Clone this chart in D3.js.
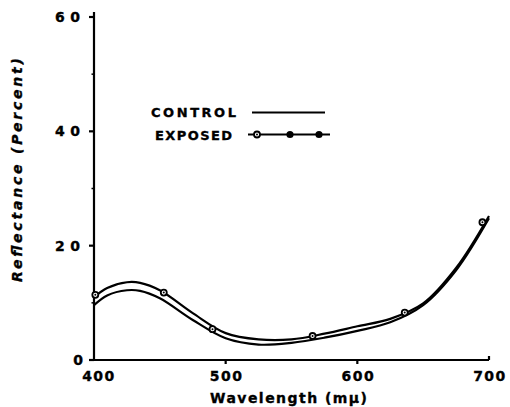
<!DOCTYPE html>
<html>
<head>
<meta charset="utf-8">
<script src="https://cdn.jsdelivr.net/npm/d3@7"></script>
<style>
  body { margin: 0; background: #fff; }
  svg { display: block; }
  text { font-family: 'DejaVu Sans', sans-serif; font-weight: bold; fill: #000; stroke: #000; stroke-width: 0.35px; }
</style>
</head>
<body>
<div id="chart"></div>
<script>
// values
const wavelengths = [400, 410, 425, 435, 450, 475, 500, 525, 550, 575, 600, 625, 650, 675, 700];
const control = [9.6, 11.3, 12.2, 12.1, 10.8, 7.0, 3.8, 2.7, 3.0, 3.9, 5.1, 6.6, 9.6, 15.7, 24.8];
const exposed = [11.0, 12.6, 13.6, 13.5, 12.2, 8.2, 4.7, 3.6, 3.6, 4.6, 5.9, 7.2, 9.9, 16.1, 25.2];
// marker positions on the exposed curve
const markerWl = [401, 453, 490, 566, 636, 695];
const markerVal = [11.4, 11.8, 5.4, 4.2, 8.3, 24.1];
const xTicks = [400, 500, 600, 700];
const yTicks = [0, 20, 40, 60];
const yMinor = [10, 30, 50];

var width = 510, height = 407;

var svg = d3.select('#chart').append('svg')
  .attr('width', width)
  .attr('height', height);

var x = d3.scaleLinear().domain([400, 700]).range([94, 489]);
var y = d3.scaleLinear().domain([0, 60]).range([360, 17]);

// axes drawn by hand-ish to get the old plotter look
var axisG = svg.append('g')
  .attr('stroke', '#000')
  .attr('stroke-width', 2.2)
  .attr('fill', 'none');

axisG.append('line')
  .attr('x1', x(400)).attr('x2', x(400))
  .attr('y1', y(0) + 1).attr('y2', y(60) - 5);

axisG.append('line')
  .attr('x1', x(400)).attr('x2', x(700))
  .attr('y1', y(0)).attr('y2', y(0));

// x ticks: down for the inner ones, little upturn at the end
axisG.selectAll('.xt')
  .data(xTicks.slice(1, 3))
  .enter().append('line')
    .attr('x1', d => x(d)).attr('x2', d => x(d))
    .attr('y1', y(0)).attr('y2', y(0) + 4);

axisG.append('line')
  .attr('x1', x(700)).attr('x2', x(700))
  .attr('y1', y(0)).attr('y2', y(0) - 4);

axisG.selectAll('.yt')
  .data(yTicks)
  .enter().append('line')
    .attr('x1', x(400) - 5).attr('x2', x(400))
    .attr('y1', d => y(d)).attr('y2', d => y(d));

axisG.selectAll('.ym')
  .data(yMinor)
  .enter().append('line')
    .attr('stroke-width', 1.5)
    .attr('x1', x(400) - 2.5).attr('x2', x(400))
    .attr('y1', d => y(d)).attr('y2', d => y(d));

// tick labels
svg.selectAll('.xl')
  .data(xTicks)
  .enter().append('text')
    .attr('x', d => x(d) + (d === 400 ? 5 : 1))
    .attr('y', y(0) + 21)
    .attr('text-anchor', 'middle')
    .attr('font-size', '14px')
    .attr('letter-spacing', '1.5px')
    .text(d => d);

svg.selectAll('.yl')
  .data(yTicks)
  .enter().append('text')
    .attr('x', d => d === 0 ? 83 : 80)
    .attr('y', d => y(d) + 5)
    .attr('text-anchor', 'end')
    .attr('font-size', '14px')
    .text(d => d === 0 ? '0' : String(d).split('').join('\u2009\u2009'));

// axis titles
svg.append('text')
  .attr('x', 210)
  .attr('y', 403)
  .attr('font-size', '14px')
  .attr('textLength', 157)
  .attr('lengthAdjust', 'spacing')
  .text('Wavelength (m\u03bc)');

svg.append('text')
  .attr('transform', 'translate(22,282) rotate(-90)')
  .attr('font-size', '14px')
  .attr('font-style', 'italic')
  .attr('textLength', 224)
  .attr('lengthAdjust', 'spacing')
  .text('Reflectance  (Percent)');

// curves
var line = d3.line()
  .x(d => x(d[0]))
  .y(d => y(d[1]))
  .curve(d3.curveCatmullRom.alpha(0.5));

var controlPts = wavelengths.map((w, i) => [w, control[i]]);
var exposedPts = wavelengths.map((w, i) => [w, exposed[i]]);

svg.append('path')
  .datum(controlPts)
  .attr('d', line)
  .attr('fill', 'none')
  .attr('stroke', '#000')
  .attr('stroke-width', 2.2);

svg.append('path')
  .datum(exposedPts)
  .attr('d', line)
  .attr('fill', 'none')
  .attr('stroke', '#000')
  .attr('stroke-width', 2.2);

function marker(g, cx, cy) {
  g.append('circle')
    .attr('cx', cx).attr('cy', cy).attr('r', 3)
    .attr('fill', '#fff').attr('stroke', '#000').attr('stroke-width', 1.8);
  g.append('circle')
    .attr('cx', cx).attr('cy', cy).attr('r', 1)
    .attr('fill', '#000');
}

var markG = svg.append('g');
markerWl.forEach((w, i) => marker(markG, x(w), y(markerVal[i])));

// legend
var legend = svg.append('g');

legend.append('text')
  .attr('x', 151).attr('y', 117)
  .attr('font-size', '13px')
  .attr('textLength', 85)
  .attr('lengthAdjust', 'spacing')
  .text('CONTROL');

legend.append('line')
  .attr('x1', 252).attr('x2', 325)
  .attr('y1', 112.5).attr('y2', 112.5)
  .attr('stroke', '#000').attr('stroke-width', 2.2);

legend.append('text')
  .attr('x', 155).attr('y', 140)
  .attr('font-size', '13px')
  .attr('textLength', 77)
  .attr('lengthAdjust', 'spacing')
  .text('EXPOSED');

legend.append('line')
  .attr('x1', 248).attr('x2', 330)
  .attr('y1', 134.5).attr('y2', 134.5)
  .attr('stroke', '#000').attr('stroke-width', 2.2);

marker(legend, 257, 134.5);
[290, 319].forEach(cx => {
  legend.append('circle')
    .attr('cx', cx).attr('cy', 134.5).attr('r', 3.6)
    .attr('fill', '#000');
});
</script>
</body>
</html>
